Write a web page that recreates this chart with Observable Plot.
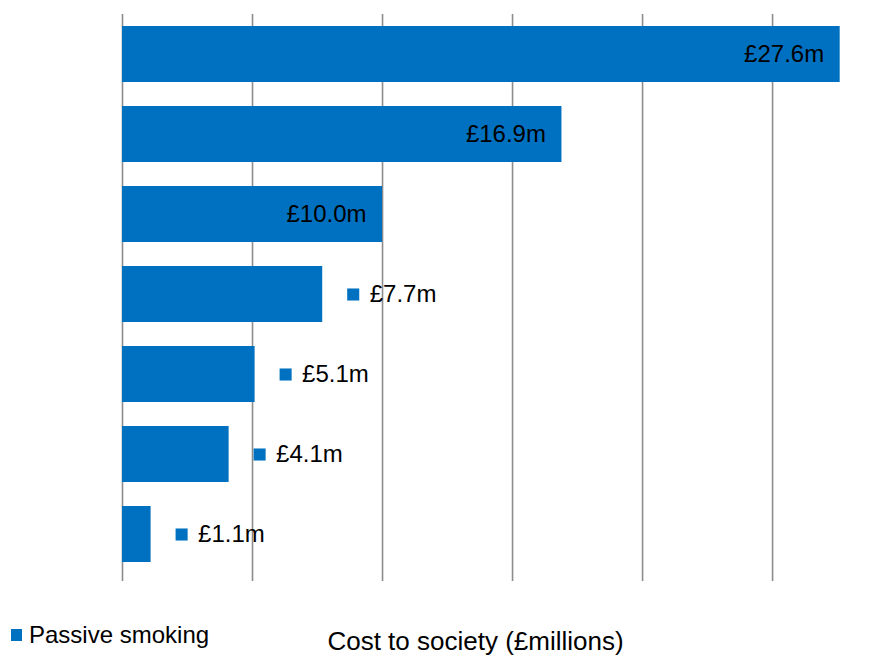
<!DOCTYPE html>
<html>
<head>
<meta charset="utf-8">
<script src="https://cdn.jsdelivr.net/npm/d3@7"></script>
<script src="https://cdn.jsdelivr.net/npm/@observablehq/plot@0.6"></script>
<style>
  body { margin: 0; background: #fff; font-family: "Liberation Sans", Arial, sans-serif; }
  #chart svg { display: block; }
  #footer { position: relative; width: 887px; height: 47px; overflow: hidden; }
  .sw { position: absolute; left: 11px; top: 19px; width: 11px; height: 12px; background: #0070C0; }
  .leg { position: absolute; left: 29px; top: 13px; font-size: 24px; line-height: 24px; color: #000; white-space: nowrap; }
  .ttl { position: absolute; left: 475.5px; top: 18px; transform: translateX(-50%); font-size: 26px; line-height: 26px; color: #000; white-space: nowrap; }
</style>
</head>
<body>
<div id="chart"></div>
<div id="footer">
  <div class="sw"></div>
  <div class="leg">Passive smoking</div>
  <div class="ttl">Cost to society (£millions)</div>
</div>
<script>
const categories = ["Item 1", "Item 2", "Item 3", "Item 4", "Item 5", "Item 6", "Item 7"];
const costs = [27.6, 16.9, 10.0, 7.7, 5.1, 4.1, 1.1];
const costLabels = ["£27.6m", "£16.9m", "£10.0m", "£7.7m", "£5.1m", "£4.1m", "£1.1m"];
const xTicks = [0, 5, 10, 15, 20, 25];
const xMax = 29.42;

const data = categories.map((c, i) => ({cat: c, value: costs[i], label: costLabels[i]}));
const inside = data.filter(d => d.value >= 10);
const outside = data.filter(d => d.value < 10);

const chart = Plot.plot({
  width: 887,
  height: 610,
  marginLeft: 122,
  marginRight: 0,
  marginTop: 14,
  marginBottom: 29,
  style: {fontFamily: "'Liberation Sans', Arial, sans-serif", background: "#fff"},
  x: {domain: [0, xMax], axis: null},
  y: {domain: categories, paddingInner: 0.3, paddingOuter: 0.15, insetBottom: 7, axis: null},
  marks: [
    Plot.gridX(xTicks, {stroke: "#8c8c8c", strokeOpacity: 1, strokeWidth: 1.6}),
    Plot.barX(data, {x: "value", y: "cat", fill: "#0070C0"}),
    Plot.text(inside, {x: "value", y: "cat", text: "label", textAnchor: "end", dx: -16, fontSize: 24, fill: "#000"}),
    Plot.dot(outside, {x: "value", y: "cat", symbol: "square", r: 6.8, fill: "#0070C0", stroke: null, dx: 30.5}),
    Plot.text(outside, {x: "value", y: "cat", text: "label", textAnchor: "start", dx: 47, fontSize: 24, fill: "#000"})
  ]
});
document.getElementById("chart").appendChild(chart);
</script>
</body>
</html>
